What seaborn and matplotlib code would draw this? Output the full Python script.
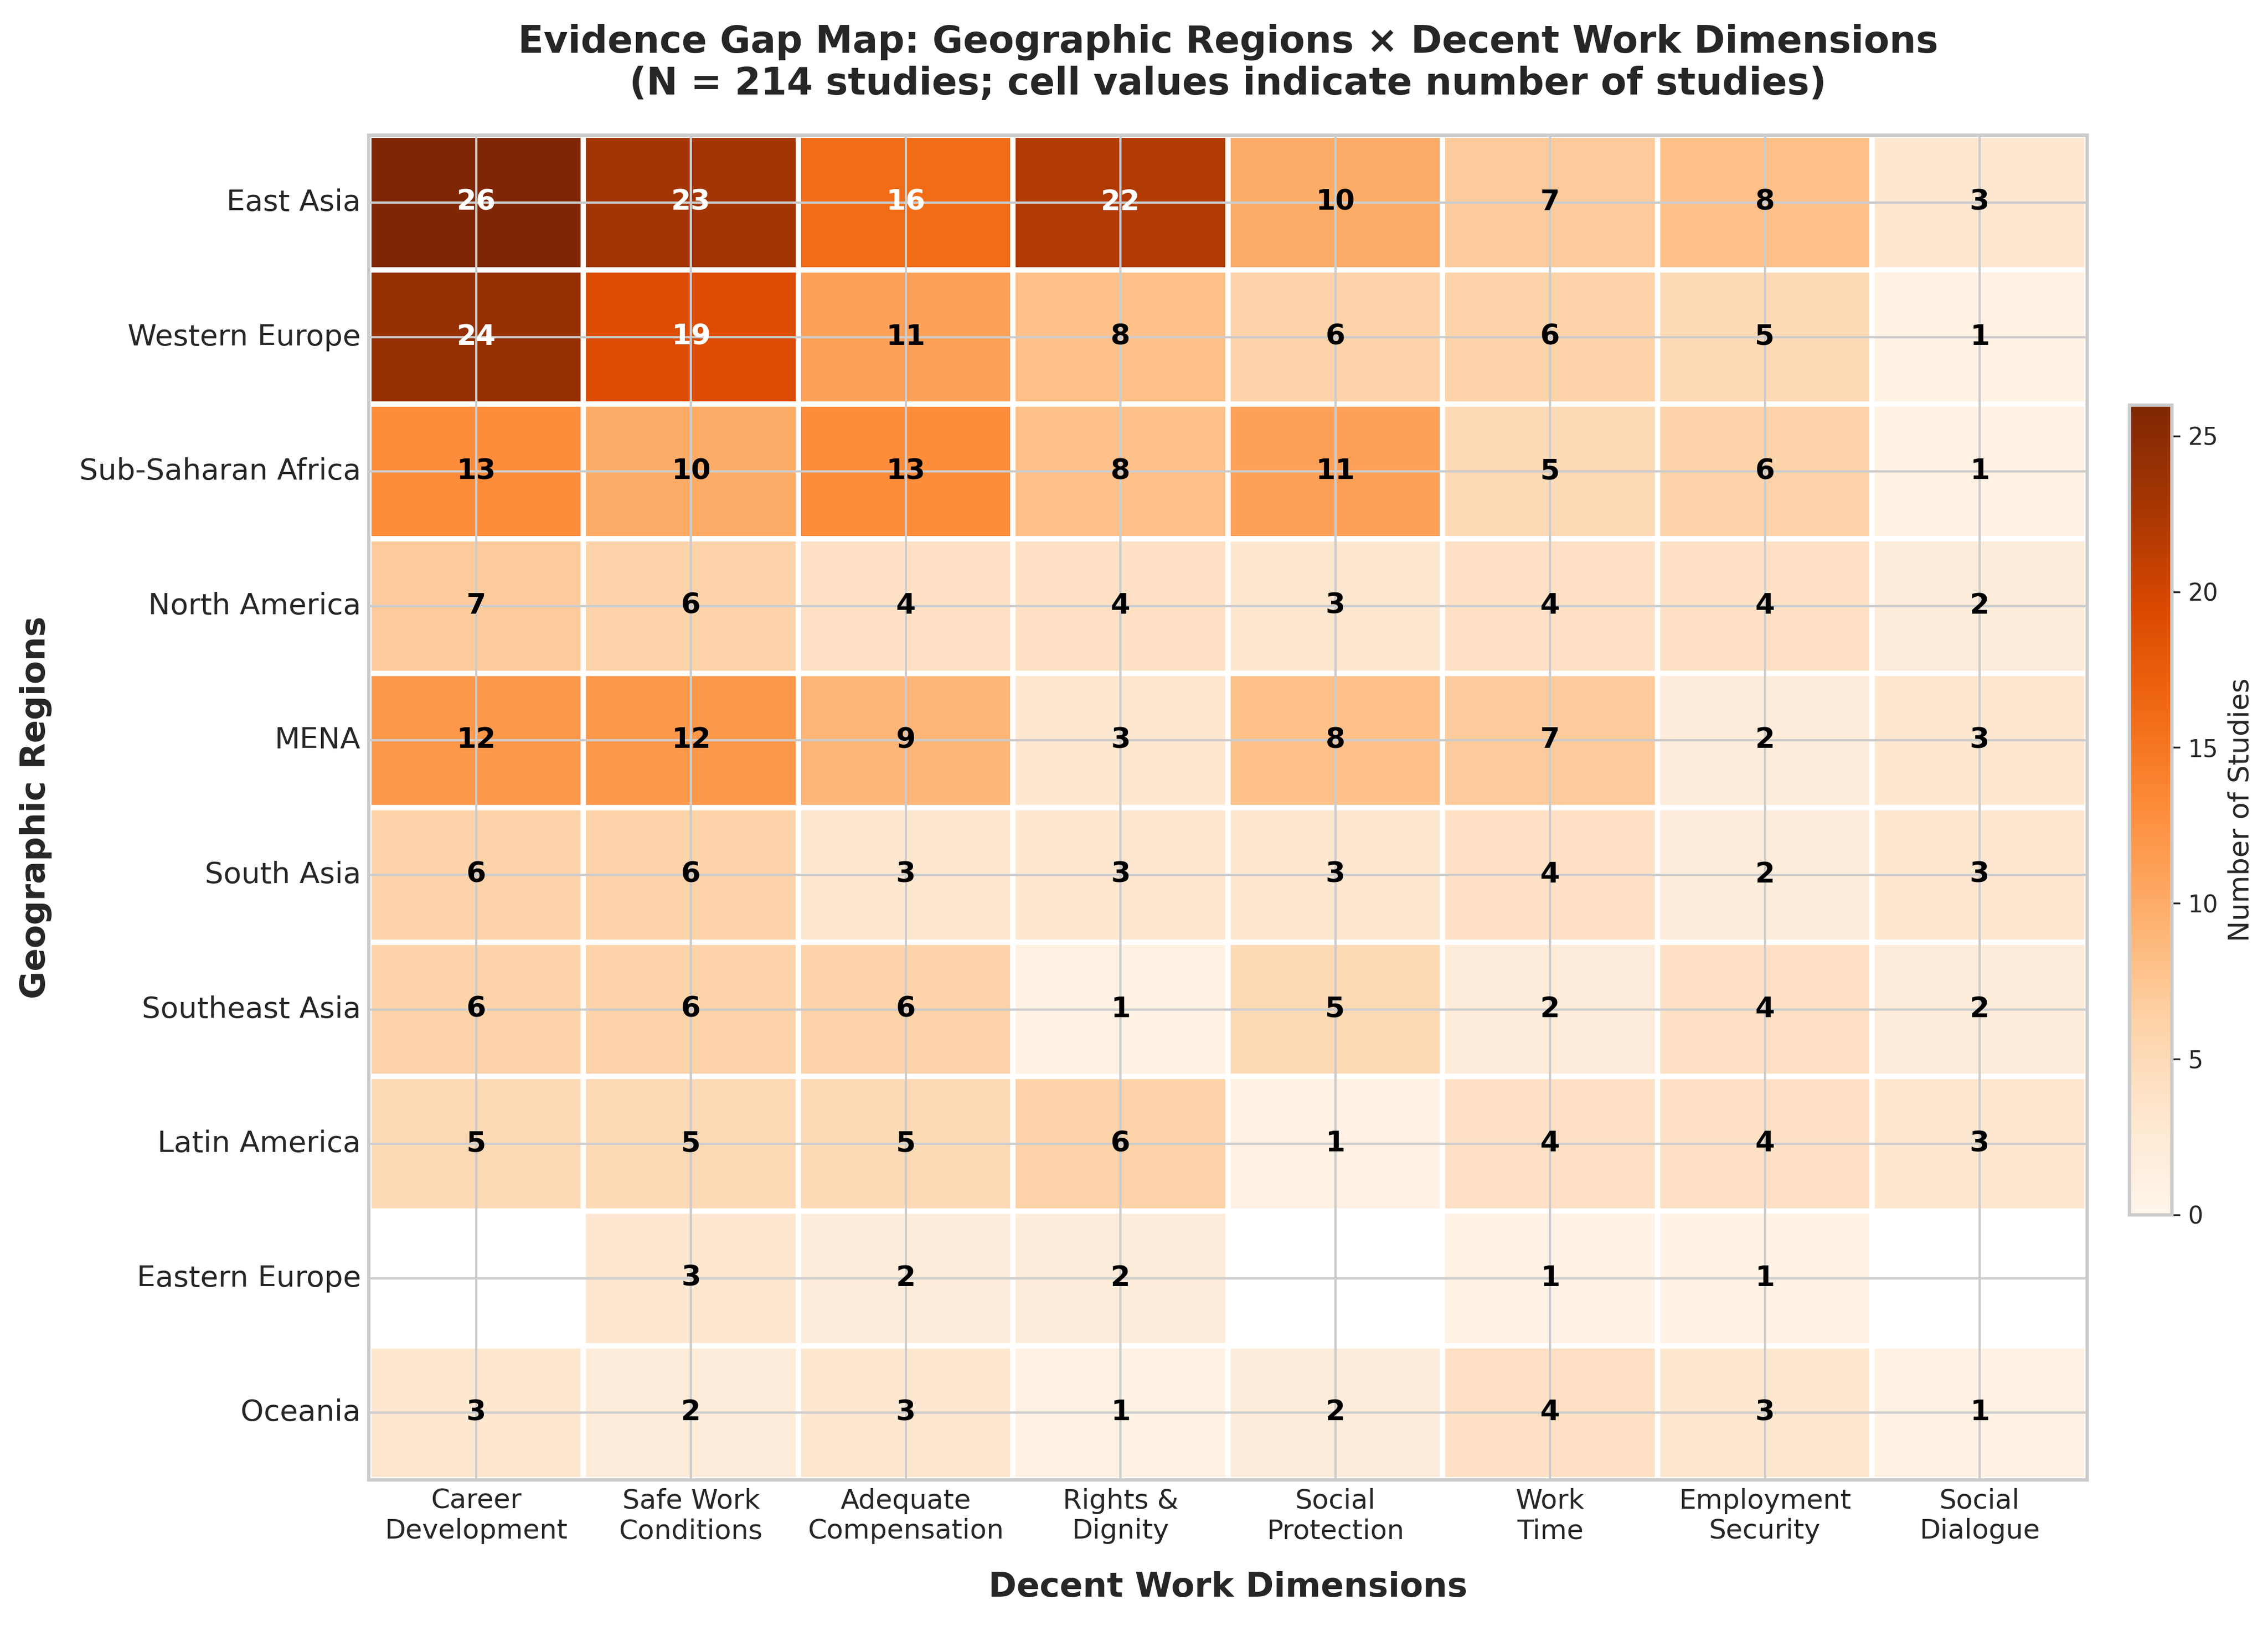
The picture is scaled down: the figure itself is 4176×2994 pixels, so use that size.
import numpy as np
import pandas as pd
import matplotlib
matplotlib.use('Agg')
import matplotlib.pyplot as plt
import seaborn as sns

regions = ['East Asia', 'Western Europe', 'Sub-Saharan Africa', 'North America',
           'MENA', 'South Asia', 'Southeast Asia', 'Latin America',
           'Eastern Europe', 'Oceania']
dimensions = ['Career\nDevelopment', 'Safe Work\nConditions', 'Adequate\nCompensation',
              'Rights &\nDignity', 'Social\nProtection', 'Work\nTime',
              'Employment\nSecurity', 'Social\nDialogue']

east_asia = [26, 23, 16, 22, 10, 7, 8, 3]
western_europe = [24, 19, 11, 8, 6, 6, 5, 1]
sub_saharan_africa = [13, 10, 13, 8, 11, 5, 6, 1]
north_america = [7, 6, 4, 4, 3, 4, 4, 2]
mena = [12, 12, 9, 3, 8, 7, 2, 3]
south_asia = [6, 6, 3, 3, 3, 4, 2, 3]
southeast_asia = [6, 6, 6, 1, 5, 2, 4, 2]
latin_america = [5, 5, 5, 6, 1, 4, 4, 3]
eastern_europe = [0, 3, 2, 2, 0, 1, 1, 0]
oceania = [3, 2, 3, 1, 2, 4, 3, 1]

n_studies = 214

counts = pd.DataFrame([east_asia, western_europe, sub_saharan_africa, north_america,
                       mena, south_asia, southeast_asia, latin_america,
                       eastern_europe, oceania],
                      index=regions, columns=dimensions)

sns.set_style("whitegrid")
plt.rcParams['font.family'] = ['DejaVu Sans']

fig = plt.figure(figsize=(13.92, 9.98), dpi=300)
ax = fig.add_axes([0.1626, 0.0898, 0.7576, 0.827])
cax = fig.add_axes([0.939, 0.253, 0.0187, 0.498])

vmax = counts.values.max()
sns.heatmap(counts, mask=(counts == 0), cmap='Oranges', vmin=0, vmax=vmax,
            linewidths=2, linecolor='white', ax=ax, cbar_ax=cax,
            cbar_kws={'label': 'Number of Studies'})

# annotate cells (white text on the dark ones)
for i, region in enumerate(regions):
    for j, dim in enumerate(dimensions):
        val = counts.loc[region, dim]
        if val == 0:
            continue
        color = 'white' if val > vmax * 0.6 else 'black'
        ax.text(j + 0.5, i + 0.5, str(val), ha='center', va='center',
                fontsize=12.5, fontweight='bold', color=color, zorder=4)

# grid drawn over the cells, frame kept
ax.set_axisbelow(False)
ax.grid(True, color='#cccccc', linewidth=1.0)
for side in ['top', 'bottom', 'left', 'right']:
    ax.spines[side].set_visible(True)
    ax.spines[side].set_color('#cccccc')
    ax.spines[side].set_linewidth(1.5)

ax.tick_params(axis='x', labelsize=12, rotation=0, length=0)
ax.tick_params(axis='y', labelsize=13, rotation=0, length=0)
ax.set_xlabel('Decent Work Dimensions', fontsize=15, fontweight='bold', labelpad=12)
ax.set_ylabel('Geographic Regions', fontsize=15, fontweight='bold', labelpad=12)
ax.set_title('Evidence Gap Map: Geographic Regions × Decent Work Dimensions\n'
             f'(N = {n_studies} studies; cell values indicate number of studies)',
             fontsize=16.5, fontweight='bold', pad=18)

cbar = ax.collections[0].colorbar
cbar.ax.tick_params(labelsize=10.5)
cbar.ax.yaxis.label.set_size(12.5)
cbar.outline.set_edgecolor('#cccccc')
cbar.outline.set_linewidth(1.5)

fig.savefig('out.png', dpi=300, facecolor='white')
plt.close(fig)
